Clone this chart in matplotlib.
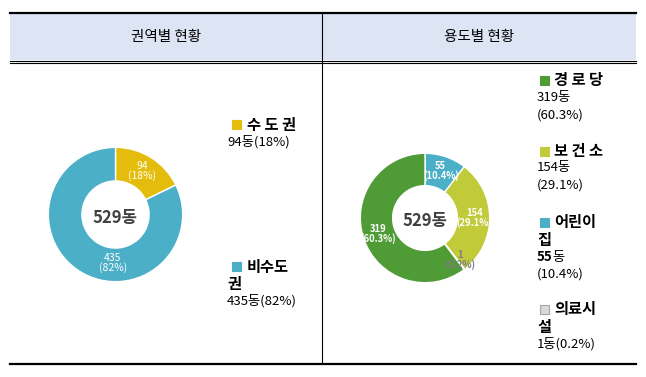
import matplotlib.pyplot as plt
import numpy as np
from matplotlib.patches import Rectangle

plt.rcParams['font.family'] = ['Noto Sans CJK KR', 'DejaVu Sans']

# data
region_names = ['수 도 권', '비수도권']
region_counts = [94, 435]
region_pcts = ['18%', '82%']
region_colors = ['#E4BD0C', '#4BAFC8']

use_names = ['어린이집', '보 건 소', '의료시설', '경 로 당']
use_counts = [55, 154, 1, 319]
use_pcts = ['10.4%', '29.1%', '0.2%', '60.3%']
use_colors = ['#4BAFC8', '#C1CB3A', '#D9D9D9', '#4F9B35']
use_label_colors = ['white', 'white', '#7F7F7F', 'white']

total = sum(region_counts)

W, H = 646, 377
fig = plt.figure(figsize=(W / 100, H / 100), dpi=100)
ax = fig.add_axes([0, 0, 1, 1])
ax.set_xlim(0, W)
ax.set_ylim(H, 0)
ax.axis('off')

# table frame
ax.add_patch(Rectangle((10, 13), 626, 47, color='#DDE5F5', lw=0))
ax.plot([10, 636], [13, 13], color='black', lw=1.6)
ax.plot([10, 636], [60.5, 60.5], color='black', lw=0.8)
ax.plot([10, 636], [63, 63], color='black', lw=0.8)
ax.plot([10, 636], [364, 364], color='black', lw=1.6)
ax.plot([322, 322], [13, 364], color='black', lw=0.8)
ax.text(166, 37, '권역별 현황', ha='center', va='center', fontsize=10.5, weight='medium')
ax.text(479, 37, '용도별 현황', ha='center', va='center', fontsize=10.5, weight='medium')


def donut(cx, cy, r, counts, colors, labels, label_colors, weight, fs, overrides):
    a = fig.add_axes([(cx - r) / W, (H - cy - r) / H, 2 * r / W, 2 * r / H])
    wedges, _ = a.pie(counts, colors=colors, startangle=90, counterclock=False,
                      radius=1, wedgeprops=dict(width=0.5, edgecolor='white', linewidth=1))
    a.set_xlim(-1.02, 1.02)
    a.set_ylim(-1.02, 1.02)
    a.set_aspect('equal')
    a.axis('off')
    for i, w in enumerate(wedges):
        ang = np.deg2rad((w.theta1 + w.theta2) / 2)
        rr = 0.76
        if i in overrides:
            ang = np.deg2rad(overrides[i][0])
            rr = overrides[i][1]
        a.text(rr * np.cos(ang), rr * np.sin(ang), labels[i], ha='center', va='center',
               fontsize=fs, color=label_colors[i], weight=weight, linespacing=0.9)
    a.text(0, -0.05, f'{total}동', ha='center', va='center', fontsize=12,
           weight='heavy', color='#404040')


donut(115.5, 214.5, 68.5, region_counts, region_colors,
      [f'{c}\n({p})' for c, p in zip(region_counts, region_pcts)],
      ['white', 'white'], 'normal', 7.5, {1: (-93, 0.72)})
donut(425, 218, 66, use_counts, use_colors,
      [f'{c}\n({p})' for c, p in zip(use_counts, use_pcts)],
      use_label_colors, 'bold', 6.8, {2: (-50, 0.84)})

# legends
def square(x, y, color, edge=None):
    ax.add_patch(Rectangle((x, y - 4.5), 9, 9, facecolor=color,
                           edgecolor=edge if edge else color, lw=0.8))

square(232, 124.5, region_colors[0])
ax.text(247, 125, '수 도 권', va='center', fontsize=11, weight='bold')
ax.text(227, 142, f'{region_counts[0]}동({region_pcts[0]})', va='center', fontsize=9.5)
square(232, 266, region_colors[1])
ax.text(247, 267, '비수도', va='center', fontsize=11, weight='bold')
ax.text(227, 284, '권', va='center', fontsize=11, weight='bold')
ax.text(227, 301, f'{region_counts[1]}동({region_pcts[1]})', va='center', fontsize=9.5)

square(540, 80, use_colors[3])
ax.text(554, 80, '경 로 당', va='center', fontsize=11, weight='bold')
ax.text(537, 98, f'{use_counts[3]}동', va='center', fontsize=9.5)
ax.text(537, 115, f'({use_pcts[3]})', va='center', fontsize=9.5)

square(540, 151, use_colors[1])
ax.text(554, 151, '보 건 소', va='center', fontsize=11, weight='bold')
ax.text(537, 168, f'{use_counts[1]}동', va='center', fontsize=9.5)
ax.text(537, 185, f'({use_pcts[1]})', va='center', fontsize=9.5)

square(540, 222, use_colors[0])
ax.text(554, 222, '어린이', va='center', fontsize=11, weight='bold')
ax.text(537, 240, '집', va='center', fontsize=11, weight='bold')
t = ax.text(537, 257, f'{use_counts[0]}', va='center', fontsize=9.5, weight='bold')
ax.annotate('동', xycoords=t, xy=(1, 0.5), va='center', fontsize=9.5)
ax.text(537, 274, f'({use_pcts[0]})', va='center', fontsize=9.5)

square(540, 309, use_colors[2], edge='#A6A6A6')
ax.text(554, 309, '의료시', va='center', fontsize=11, weight='bold')
ax.text(537, 327, '설', va='center', fontsize=11, weight='bold')
ax.text(537, 344, f'{use_counts[2]}동({use_pcts[2]})', va='center', fontsize=9.5)

fig.savefig('out.png', dpi=100)
